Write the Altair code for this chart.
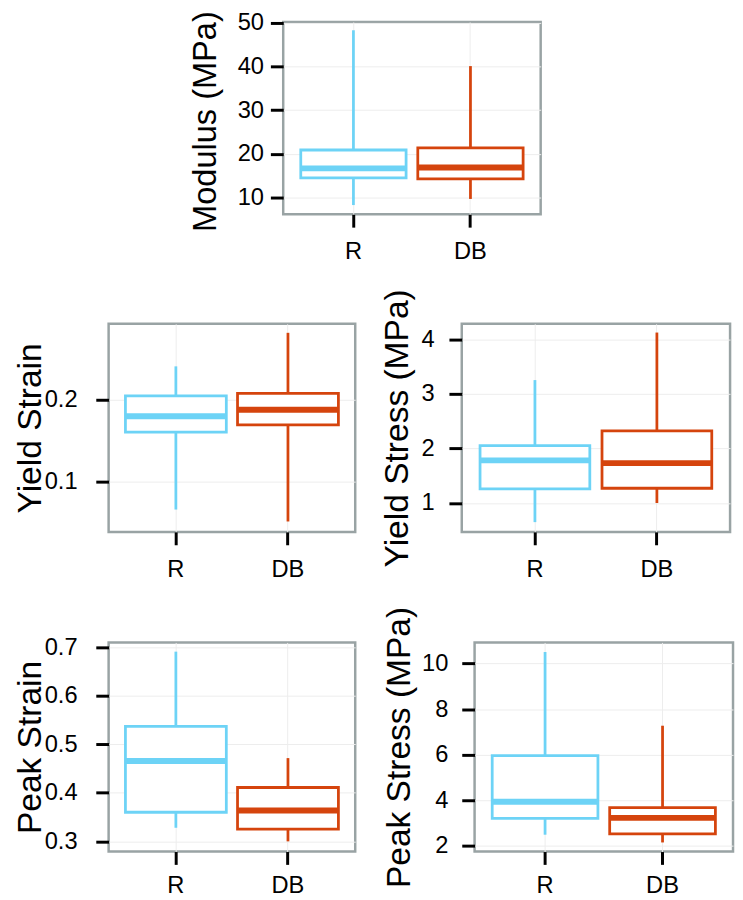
import altair as alt
import pandas as pd

groups = ["R", "DB"]
colors = ["#6DD3F6", "#D5440D"]

# Modulus (MPa)
modulus_lower = [8.3, 9.7]
modulus_q1 = [14.5, 14.3]
modulus_median = [16.7, 16.9]
modulus_q3 = [20.9, 21.4]
modulus_upper = [48.3, 40.1]
modulus_ticks = [10, 20, 30, 40, 50]

# Yield Strain
ystrain_lower = [0.066, 0.0514]
ystrain_q1 = [0.1606, 0.1695]
ystrain_median = [0.180, 0.188]
ystrain_q3 = [0.205, 0.208]
ystrain_upper = [0.241, 0.282]
ystrain_ticks = [0.1, 0.2]

# Yield Stress (MPa)
ystress_lower = [0.65, 1.0]
ystress_q1 = [1.26, 1.27]
ystress_median = [1.78, 1.73]
ystress_q3 = [2.05, 2.32]
ystress_upper = [3.25, 4.12]
ystress_ticks = [1, 2, 3, 4]

# Peak Strain
pstrain_lower = [0.328, 0.300]
pstrain_q1 = [0.360, 0.325]
pstrain_median = [0.4655, 0.3635]
pstrain_q3 = [0.537, 0.411]
pstrain_upper = [0.691, 0.4716]
pstrain_ticks = [0.3, 0.4, 0.5, 0.6, 0.7]

# Peak Stress (MPa)
pstress_lower = [2.48, 2.14]
pstress_q1 = [3.20, 2.52]
pstress_median = [3.93, 3.22]
pstress_q3 = [5.96, 3.67]
pstress_upper = [10.51, 7.27]
pstress_ticks = [2, 4, 6, 8, 10]

FONT = "Liberation Sans"


def panel(title, lower, q1, med, q3, upper, ticks, domain, width, height,
          ylabel_pad, title_x, xlabel_pad, fmt, title_size=34, title_dy=0):
    df = pd.DataFrame({"group": groups, "lower": lower, "q1": q1,
                       "median": med, "q3": q3, "upper": upper})
    step = width / 2.2
    xenc = alt.X("group:N", sort=groups,
                 scale=alt.Scale(domain=groups, paddingInner=0, paddingOuter=0.1),
                 axis=alt.Axis(title=None, labelAngle=0, labelPadding=xlabel_pad,
                               bandPosition=0.5, grid=True))
    yscale = alt.Scale(domain=domain, nice=False, zero=False)
    yaxis = alt.Axis(title=title, values=ticks, format=fmt, labelPadding=ylabel_pad,
                     titleX=title_x, titleY=height / 2 + title_dy,
                     titleBaseline="alphabetic", titleFontSize=title_size,
                     titleAngle=270, titleAlign="center")
    color = alt.Color("group:N", scale=alt.Scale(domain=groups, range=colors), legend=None)
    stroke = alt.Stroke("group:N", scale=alt.Scale(domain=groups, range=colors), legend=None)
    base = alt.Chart(df)
    hi = base.mark_rule(strokeWidth=2.8).encode(
        x=xenc, y=alt.Y("upper:Q", scale=yscale, axis=yaxis), y2="q3:Q", color=color)
    lo = base.mark_rule(strokeWidth=2.8).encode(
        x=xenc, y=alt.Y("lower:Q", scale=yscale, axis=yaxis), y2="q1:Q", color=color)
    box = base.mark_bar(fill="white", strokeWidth=2.8,
                        width=alt.RelativeBandSize(0.9)).encode(
        x=xenc, y=alt.Y("q1:Q", scale=yscale, axis=yaxis), y2="q3:Q", stroke=stroke)
    mid = base.mark_tick(thickness=6, size=0.9 * step, opacity=1).encode(
        x=xenc, y=alt.Y("median:Q", scale=yscale, axis=yaxis), color=color)
    return alt.layer(hi, lo, box, mid).properties(width=width, height=height)


top = panel("Modulus (MPa)", modulus_lower, modulus_q1, modulus_median, modulus_q3,
            modulus_upper, modulus_ticks, [6.18, 50.2], 261, 195, 7, -69, 13, "d",
            title_size=33, title_dy=3)
r2l = panel("Yield Strain", ystrain_lower, ystrain_q1, ystrain_median, ystrain_q3,
            ystrain_upper, ystrain_ticks, [0.0386, 0.293], 250, 211, 19, -69, 13, ".1f")
r2r = panel("Yield Stress (MPa)", ystress_lower, ystress_q1, ystress_median, ystress_q3,
            ystress_upper, ystress_ticks, [0.47, 4.28], 272, 211, 15, -55, 13, "d")
r3l = panel("Peak Strain", pstrain_lower, pstrain_q1, pstrain_median, pstrain_q3,
            pstrain_upper, pstrain_ticks, [0.279, 0.710], 250, 212, 19, -69, 10, ".1f")
r3r = panel("Peak Stress (MPa)", pstress_lower, pstress_q1, pstress_median, pstress_q3,
            pstress_upper, pstress_ticks, [1.74, 10.93], 262, 212, 14, -66, 10, "d")

spacer = alt.Chart(pd.DataFrame({"v": [0]})).mark_point(opacity=0).properties(
    width=177, height=195, view=alt.ViewBackground(strokeOpacity=0))

row1 = alt.hconcat(spacer, top, spacing=0, bounds="flush")
row2 = alt.hconcat(r2l, r2r, spacing=108, bounds="flush")
row3 = alt.hconcat(r3l, r3r, spacing=121, bounds="flush")

chart = alt.vconcat(row1, row2, row3, spacing=22).properties(
    padding={"left": 4, "top": -5, "right": 0, "bottom": -3}
).configure_view(
    stroke="#99A3A4", strokeWidth=2.5
).configure_axis(
    gridColor="#EDEDED", gridWidth=1, domain=False,
    tickColor="black", tickWidth=3, tickSize=13,
    labelFont=FONT, labelFontSize=24, labelColor="black",
    titleFont=FONT, titleFontWeight="normal", titleColor="black"
)

chart.save("out.html", embed_options={"renderer": "svg", "actions": False})
